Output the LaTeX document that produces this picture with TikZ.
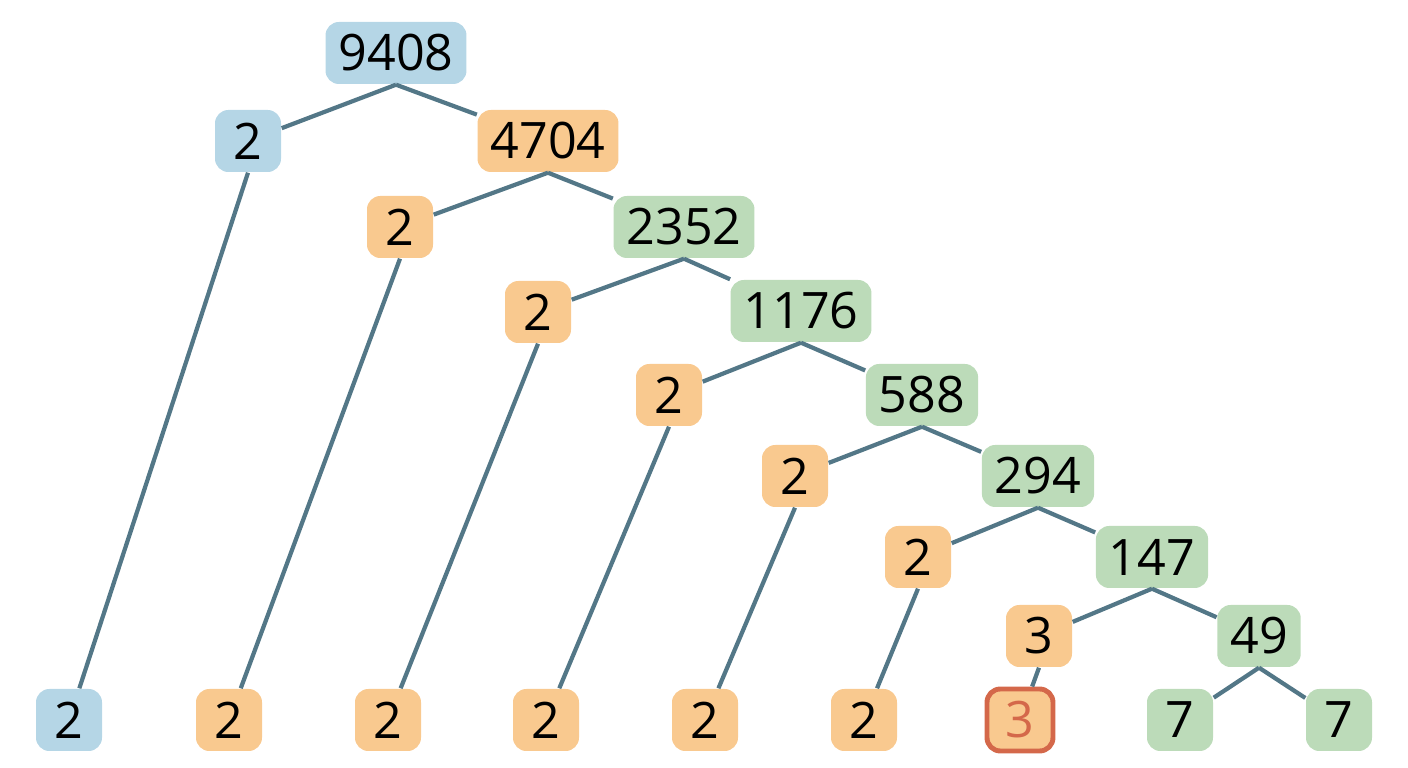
\documentclass[tikz,border=0pt]{standalone}
\usepackage{fontspec}
\setmainfont{Open Sans}
\definecolor{blfill}{HTML}{B5D6E6}
\definecolor{orfill}{HTML}{F9C98F}
\definecolor{grfill}{HTML}{BCDBB9}
\definecolor{edgecol}{HTML}{537787}
\definecolor{redcol}{HTML}{D4684A}
\begin{document}
\begin{tikzpicture}[
  num/.style={rounded corners=3.8pt,minimum width=0.66cm,minimum height=0.62cm,inner xsep=0.13cm,font=\fontsize{14.3}{16}\selectfont},
  bl/.style={num,fill=blfill},
  orr/.style={num,fill=orfill},
  gr/.style={num,fill=grfill},
  hit/.style={orr,draw=redcol,line width=1.4pt,text=redcol},
  br/.style={draw=edgecol,line width=1.2pt}]
\useasboundingbox (0,0) rectangle (14.08,7.68);
\node[bl] (n9408) at (3.96,7.15) {9408};
\node[bl] (a1) at (2.48,6.27) {2};
\node[orr] (n4704) at (5.48,6.27) {4704};
\node[orr] (a2) at (4.00,5.41) {2};
\node[gr] (n2352) at (6.84,5.41) {2352};
\node[orr] (a3) at (5.38,4.56) {2};
\node[gr] (n1176) at (8.01,4.57) {1176};
\node[orr] (a4) at (6.69,3.73) {2};
\node[gr] (n588) at (9.22,3.73) {588};
\node[orr] (a5) at (7.95,2.92) {2};
\node[gr] (n294) at (10.38,2.92) {294};
\node[orr] (a6) at (9.18,2.11) {2};
\node[gr] (n147) at (11.52,2.11) {147};
\node[orr] (a7) at (10.39,1.32) {3};
\node[gr] (n49) at (12.59,1.32) {49};
\node[bl] (b1) at (0.69,0.48) {2};
\node[orr] (b2) at (2.29,0.48) {2};
\node[orr] (b3) at (3.88,0.48) {2};
\node[orr] (b4) at (5.46,0.48) {2};
\node[orr] (b5) at (7.05,0.48) {2};
\node[orr] (b6) at (8.64,0.48) {2};
\node[hit] (b7) at (10.20,0.48) {3};
\node[gr] (b8) at (11.80,0.48) {7};
\node[gr] (b9) at (13.39,0.48) {7};
\draw[br] (n9408.south) -- (a1) (n9408.south) -- (n4704);
\draw[br] (n4704.south) -- (a2) (n4704.south) -- (n2352);
\draw[br] (n2352.south) -- (a3) (n2352.south) -- (n1176);
\draw[br] (n1176.south) -- (a4) (n1176.south) -- (n588);
\draw[br] (n588.south) -- (a5) (n588.south) -- (n294);
\draw[br] (n294.south) -- (a6) (n294.south) -- (n147);
\draw[br] (n147.south) -- (a7) (n147.south) -- (n49);
\draw[br] (n49.south) -- (b8) (n49.south) -- (b9);
\draw[br] (a1.south) -- (b1);
\draw[br] (a2.south) -- (b2);
\draw[br] (a3.south) -- (b3);
\draw[br] (a4.south) -- (b4);
\draw[br] (a5.south) -- (b5);
\draw[br] (a6.south) -- (b6);
\draw[br] (a7.south) -- (b7);
\end{tikzpicture}
\end{document}
